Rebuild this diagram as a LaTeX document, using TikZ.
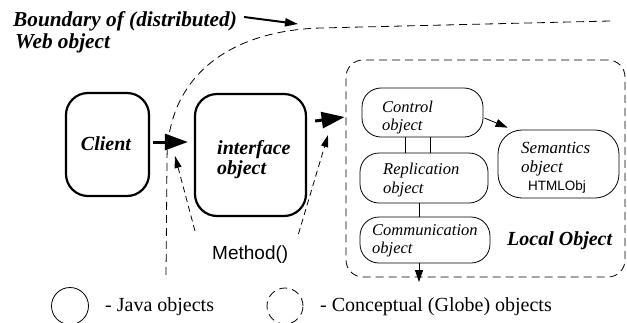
\documentclass[tikz,border=0pt]{standalone}
\usepackage{fontspec}
\setmainfont{Liberation Serif}
\newfontfamily\helv{Liberation Sans}
\usetikzlibrary{arrows.meta}
\begin{document}
\begin{tikzpicture}[x=1pt,y=-1pt,
  jbox/.style={draw, line width=2.2pt, rounded corners=22pt, inner sep=0pt},
  ibox/.style={draw, line width=0.8pt, rounded corners=19pt, inner sep=0pt},
  bi/.style={font=\fontsize{20}{24}\selectfont\bfseries\itshape, inner sep=0pt, anchor=base west},
  itx/.style={font=\fontsize{16.5}{18}\selectfont\itshape, inner sep=0pt, anchor=base west},
  dsh/.style={dash pattern=on 8pt off 5pt, line width=0.8pt},
  dsa/.style={dash pattern=on 6pt off 4pt, line width=0.8pt, -{Triangle[length=12pt,width=7pt]}},
  bigarr/.style={line width=3pt, -{Triangle[length=23pt,width=16pt]}},
  thinarr/.style={line width=0.8pt, -{Triangle[length=12pt,width=8pt]}},
  legtxt/.style={font=\fontsize{20}{24}\selectfont, inner sep=0pt, anchor=base west}
]
\useasboundingbox (0,0) rectangle (627,322);
\clip (0,0) rectangle (627,322);

% boundary label
\node[bi, font=\fontsize{21.3}{24}\selectfont\bfseries\itshape] (b1) at (13,26) {Boundary of (distributed)};
\node[bi, font=\fontsize{21.3}{24}\selectfont\bfseries\itshape] (b2) at (15,48) {Web object};
\coordinate (btip) at (298,24);
\draw[line width=2pt, -{Triangle[length=13pt,width=8pt]}] ([xshift=7pt,yshift=9pt]b1.base east) -- (btip);

% boundary curve
\draw[dsh] (610,21) -- (320,28) .. controls (225,31) and (167,80) .. (167,160) -- (166,277);

% java boxes
\node[jbox, minimum width=83pt, minimum height=103pt] (client) at (107.5,144.5) {};
\node[bi, anchor=base] (clientt) at (106,150) {Client};
\node[jbox, minimum width=111pt, minimum height=122pt] (iface) at (250.5,155) {};
\node[bi] (if1) at (217,154) {interface};
\node[bi] (if2) at (217,174) {object};

% local object box
\node[draw, dsh, rounded corners=17pt, minimum width=279pt, minimum height=217pt, inner sep=0pt] (local) at (485.5,168.5) {};
\node[bi] (localt) at (507,245) {Local Object};

% inner boxes
\node[ibox, minimum width=121pt, minimum height=49pt] (ctrl) at (422.5,112.5) {};
\node[itx] (c1) at (382,112) {Control};
\node[itx] (c2) at (382,130) {object};
\node[ibox, minimum width=128pt, minimum height=50pt] (repl) at (424,178) {};
\node[itx] (r1) at (383,174) {Replication};
\node[itx] (r2) at (383,193) {object};
\node[ibox, minimum width=130pt, minimum height=46pt] (comm) at (425,240) {};
\node[itx] (m1) at (372,235) {Communication};
\node[itx] (m2) at (372,253) {object};
\node[ibox, rounded corners=24pt, minimum width=121pt, minimum height=68pt] (sem) at (558.5,164) {};
\node[itx, font=\fontsize{17}{19}\selectfont\itshape] (s1) at (521,153) {Semantics};
\node[itx, font=\fontsize{17}{19}\selectfont\itshape] (s2) at (521,172) {object};
\node[inner sep=0pt, anchor=base west, font=\helv\fontsize{13.5}{15}\selectfont] (s3) at (528,190) {HTMLObj};

% connectors inside
\draw[line width=0.8pt] ([xshift=-17.5pt]ctrl.south) -- ([xshift=-17.5pt]ctrl.south |- repl.north);
\draw[line width=0.8pt] ([xshift=7.5pt]ctrl.south) -- ([xshift=7.5pt]ctrl.south |- repl.north);
\draw[line width=0.8pt] ([xshift=-5pt]repl.south) -- ([xshift=-5pt]repl.south |- comm.north);
\coordinate (outp) at (419,282);
\draw[thinarr] (comm.south -| outp) -- (outp);
\draw[thinarr] ([xshift=1pt,yshift=-5.5pt]ctrl.east) -- ([xshift=10pt,yshift=2pt]sem.north west);

% main arrows
\draw[bigarr] ([xshift=3pt,yshift=2.5pt]client.east) -- ([xshift=-6pt,yshift=13pt]iface.west);
\draw[bigarr] ([xshift=8pt,yshift=34pt]iface.east) -- ([xshift=-1pt,yshift=51.5pt]local.west);

% Method
\node[inner sep=0pt, anchor=base west, font=\helv\fontsize{19}{22}\selectfont] (meth) at (212,259) {Method()};
\coordinate (mt1) at (175,156);
\coordinate (mt2) at (328,135);
\draw[dsa] ([xshift=-17pt,yshift=14pt]meth.north west) -- (mt1);
\draw[dsa] ([xshift=10pt,yshift=11pt]meth.north east) -- (mt2);

% legend
\node[circle, draw, line width=0.8pt, minimum size=37pt, inner sep=0pt] (jleg) at (70,306) {};
\node[legtxt] (jlegt) at (105,311) {- Java objects};
\node[circle, draw, dsh, minimum size=36pt, inner sep=0pt] (cleg) at (285,306) {};
\node[legtxt] (clegt) at (320,311) {- Conceptual (Globe) objects};
\end{tikzpicture}
\end{document}
